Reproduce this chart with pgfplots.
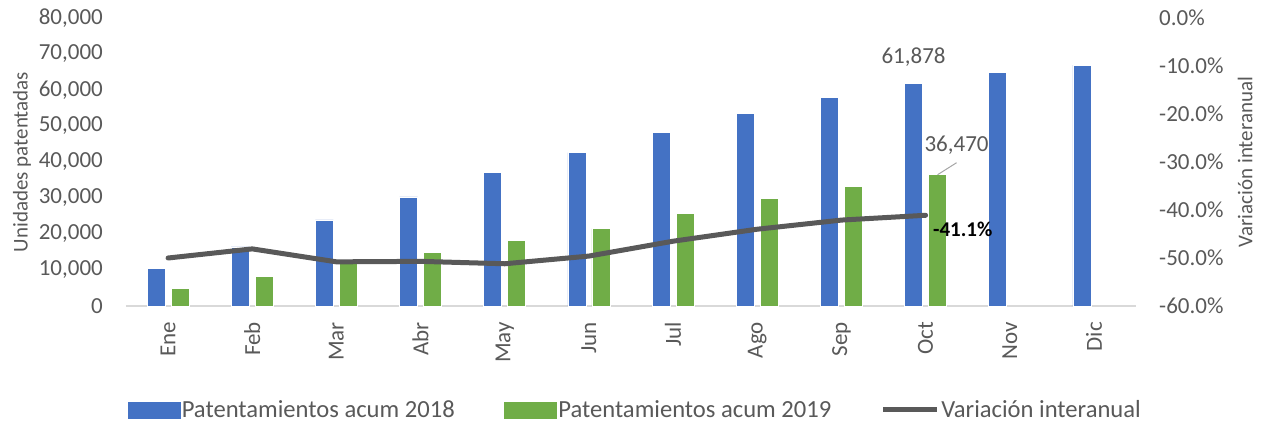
\documentclass[border=0pt]{standalone}
\usepackage{pgfplots}
\pgfplotsset{compat=1.18}
\usepackage{fontspec}
\setmainfont{Carlito}
\definecolor{cblue}{HTML}{4472C4}
\definecolor{cgreen}{HTML}{70AD47}
\definecolor{cline}{HTML}{595959}
\definecolor{ctxt}{HTML}{595959}
\definecolor{caxis}{HTML}{D9D9D9}
\newcommand\f{\fontsize{23bp}{27bp}\selectfont}
\newcommand\g{\fontsize{21bp}{25bp}\selectfont}
\newcommand\lf{\fontsize{24.6bp}{28bp}\selectfont}
\begin{document}
\begin{tikzpicture}[x=1bp,y=1bp]
\path[use as bounding box] (-126,-117) rectangle (1138,306);
\begin{axis}[at={(0,0)}, anchor=south west, scale only axis,
  width=1010bp, height=288bp,
  xmin=-0.5, xmax=11.5, ymin=0, ymax=80000,
  axis x line*=bottom, axis y line*=left,
  x axis line style={draw=caxis, line width=1.5bp, -},
  y axis line style={draw=none},
  major tick length=0pt,
  xtick={0,...,11},
  xticklabels={Ene,Feb,Mar,Abr,May,Jun,Jul,Ago,Sep,Oct,Nov,Dic},
  xticklabel style={rotate=90, anchor=east, inner sep=0pt, font=\f, text=ctxt},
  xticklabel shift=16bp,
  ytick={0,10000,...,80000},
  yticklabel style={anchor=east, inner sep=0pt, font=\f, text=ctxt},
  yticklabel shift=23bp,
  /pgf/number format/assume math mode=true,
  /pgf/number format/.cd, fixed, precision=0, 1000 sep={,}, /pgfplots/.cd,
  scaled y ticks=false,
  ylabel={Unidades patentadas},
  ylabel style={at={(axis description cs:-0.103,0.5)}, anchor=center, font=\g, text=ctxt},
  bar width=18bp,
  legend columns=3,
  legend style={at={(0.504,-0.361)}, anchor=center, draw=none, font=\lf, text=ctxt,
    /tikz/every even column/.append style={column sep=48bp},
    nodes={inner sep=1.5bp}},
]
\addplot[ybar, bar shift=-12bp, fill=cblue, draw=white, line width=0.6bp,
  legend image code/.code={\fill[cblue] (0bp,-8bp) rectangle (52bp,8bp);}]
  coordinates {(0,10500) (1,16400) (2,23900) (3,30300) (4,37200) (5,42600)
   (6,48200) (7,53600) (8,58000) (9,61878) (10,65000) (11,66900)};
\addlegendentry{Patentamientos acum 2018}
\addplot[ybar, bar shift=12bp, fill=cgreen, draw=white, line width=0.6bp,
  legend image code/.code={\fill[cgreen] (0bp,-8bp) rectangle (52bp,8bp);}]
  coordinates {(0,5000) (1,8300) (2,11900) (3,14900) (4,18300) (5,21500)
   (6,25800) (7,30000) (8,33300) (9,36470)};
\addlegendentry{Patentamientos acum 2019}
\addlegendimage{legend image code/.code={\draw[cline, line width=5bp] (0bp,0bp) -- (54bp,0bp);}}
\addlegendentry{Variación interanual}
\node[font=\f, text=ctxt, anchor=center] at (axis cs:9,61878) [xshift=-12bp, yshift=26bp] {61,878};
\draw[black!35, line width=1bp] ([xshift=12bp]axis cs:9,36470) -- ([xshift=31bp,yshift=12bp]axis cs:9,36470);
\node[font=\f, text=ctxt, anchor=center] at (axis cs:9,36470) [xshift=31bp, yshift=30bp] {36,470};
\end{axis}
\begin{axis}[at={(0,0)}, anchor=south west, scale only axis,
  width=1010bp, height=288bp,
  xmin=-0.5, xmax=11.5, ymin=-60, ymax=0,
  axis x line=none, axis y line*=right,
  y axis line style={draw=none},
  major tick length=0pt,
  ytick={-60,-50,...,0},
  yticklabel={\pgfmathprintnumber[fixed, fixed zerofill, precision=1]{\tick}\%},
  yticklabel style={anchor=west, inner sep=0pt, font=\f, text=ctxt},
  yticklabel shift=23bp,
  /pgf/number format/assume math mode=true,
  ylabel={Variación interanual},
  ylabel style={at={(axis description cs:1.108,0.5)}, anchor=center, font=\g, text=ctxt},
]
\addplot[cline, line width=5bp, line join=round, line cap=round]
  coordinates {(0,-50.0) (1,-48.1) (2,-50.8) (3,-50.7) (4,-51.2) (5,-49.6)
   (6,-46.5) (7,-44.0) (8,-42.1) (9,-41.1)};
\node[font=\bfseries\g, text=black, anchor=west] at (axis cs:9,-41.1) [xshift=4bp, yshift=-14bp] {-41.1\%};
\end{axis}
\end{tikzpicture}
\end{document}
